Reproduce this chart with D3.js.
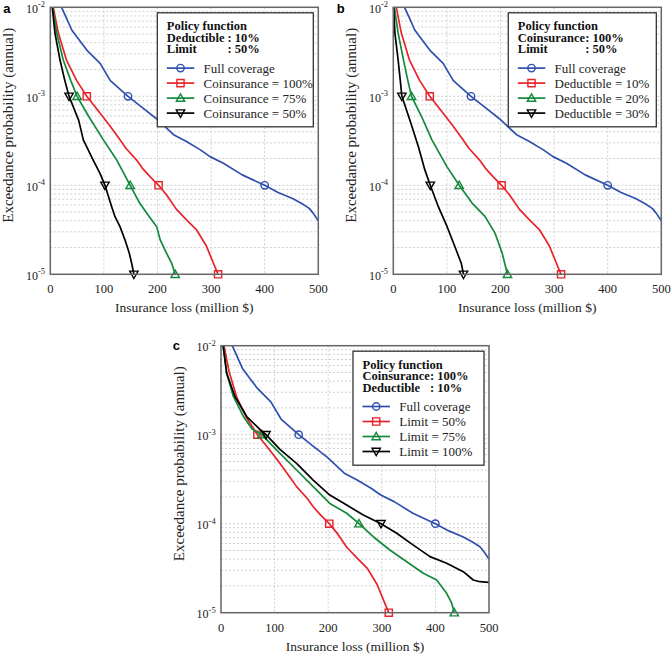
<!DOCTYPE html>
<html>
<head>
<meta charset="utf-8">
<script src="https://cdn.jsdelivr.net/npm/d3@7"></script>
<style>
    body { margin: 0; background: #fff; }
    svg { display: block; font-family: "Liberation Serif", "Times New Roman", serif; }
</style>
</head>
<body>
<div id="chart"></div>
<script>
// ---- data (loss in million $, annual exceedance probability) ----
const lossTicks = [0, 100, 200, 300, 400, 500];
const probTicks = [1e-2, 1e-3, 1e-4, 1e-5];
const markerProbs = [1e-3, 1e-4, 1e-5];

// same in all three panels
const fullCoverage = [
    [21, 1e-2], [30, 7.6e-3], [40, 5.56e-3], [55, 4.2e-3], [68, 3.31e-3], [93, 2.34e-3],
    [112, 1.5e-3], [145, 1e-3], [170, 7.6e-4], [198, 5.6e-4], [230, 3.7e-4], [254, 3.1e-4],
    [280, 2.5e-4], [298, 2.1e-4], [323, 1.77e-4], [358, 1.31e-4], [400, 1e-4], [425, 8.3e-5],
    [452, 7.1e-5], [470, 6.2e-5], [483, 5.5e-5], [490, 4.9e-5], [500, 4.0e-5]
];

// deductible 10%, limit 50%, coinsurance 100% (red in every panel)
const policyBase = [
    [5.6, 1e-2], [15, 5.13e-3], [30, 2.57e-3], [49, 1.51e-3], [68, 1e-3], [93, 6.46e-4],
    [110, 4.76e-4], [130, 3.24e-4], [141, 2.61e-4], [161, 1.92e-4], [172, 1.55e-4], [186, 1.25e-4],
    [202, 1e-4], [217, 7.78e-5], [235, 5.4e-5], [254.5, 4.07e-5], [273, 3.15e-5], [291, 2.09e-5],
    [304, 1.35e-5], [313, 1e-5]
];

// panel a: coinsurance
const coins75 = [
    [4.4, 1e-2], [12, 5.13e-3], [24, 2.57e-3], [38, 1.51e-3], [50, 1e-3], [72, 5.89e-4],
    [99, 3.24e-4], [124, 1.92e-4], [149, 1e-4], [167, 6.28e-5], [180, 4.84e-5], [198.5, 3.43e-5],
    [205, 2.43e-5], [217, 1.72e-5], [226.5, 1.33e-5], [233, 1e-5]
];
const coins50 = [
    [3.7, 1e-2], [8.7, 5.13e-3], [18, 2.57e-3], [27, 1.51e-3], [35, 1e-3], [53, 5.37e-4],
    [61.6, 3.24e-4], [80, 1.92e-4], [92.7, 1.36e-4], [102, 1e-4], [114.5, 5.75e-5], [120.7, 4.44e-5],
    [130, 3.43e-5], [139.4, 2.43e-5], [147.4, 1.72e-5], [151.8, 1.33e-5], [156, 1e-5]
];

// panel b: deductible
const ded20 = [
    [2, 1e-2], [9, 5.13e-3], [19, 2.57e-3], [27, 1.51e-3], [34, 1e-3], [53, 5.89e-4],
    [72, 3.24e-4], [100, 1.62e-4], [123, 1e-4], [147, 6.31e-5], [171, 4.47e-5], [190, 2.88e-5],
    [203, 1.74e-5], [213, 1e-5]
];
const ded30 = [
    [0.6, 1e-2], [3, 5.13e-3], [9, 2.57e-3], [13, 1.51e-3], [16, 1e-3], [31, 5.37e-4],
    [47, 2.69e-4], [59, 1.48e-4], [69, 1e-4], [84, 5.75e-5], [100, 3.47e-5], [115, 2.04e-5],
    [127, 1.32e-5], [131, 1e-5]
];

// panel c: limit
const limit75 = [
    [4, 1e-2], [10.6, 4.9e-3], [23, 2.69e-3], [42, 1.6e-3], [58, 1.16e-3], [76, 1e-3],
    [110, 6.18e-4], [141, 4.01e-4], [172, 2.61e-4], [203, 1.69e-4], [234.5, 1.31e-4], [257.5, 1e-4],
    [284, 7.14e-5], [315, 5.06e-5], [346.5, 3.74e-5], [377.4, 2.77e-5], [402.4, 2.33e-5], [421, 1.65e-5],
    [430.4, 1.28e-5], [435.3, 1e-5]
];
const limit100 = [
    [4, 1e-2], [10.6, 4.9e-3], [26, 2.69e-3], [48, 1.6e-3], [73, 1.14e-3], [84, 1e-3],
    [110, 6.85e-4], [141, 4.76e-4], [172, 3.09e-4], [203, 2.1e-4], [234.5, 1.62e-4], [265.5, 1.25e-4],
    [298.5, 1e-4], [327.8, 7.8e-5], [358.8, 5.75e-5], [390, 4.27e-5], [421, 3.59e-5], [452, 2.89e-5],
    [470.7, 2.33e-5], [483, 2.23e-5], [500, 2.19e-5]
];

const colors = { blue: "#2f4fae", red: "#e8232a", green: "#14893b", black: "#000000" };

const panels = [
    {
        tag: "a", left: 50.3, top: 7.3, tagX: 3.3, tagY: 13.3, legendW: 156, colGap: 3,
        header: ["Policy function", ["Deductible", ": 10%"], ["Limit", ": 50%"]],
        series: [
            { name: "Full coverage", data: fullCoverage, color: colors.blue, symbol: "circle" },
            { name: "Coinsurance = 100%", data: policyBase, color: colors.red, symbol: "square" },
            { name: "Coinsurance = 75%", data: coins75, color: colors.green, symbol: "up" },
            { name: "Coinsurance = 50%", data: coins50, color: colors.black, symbol: "down" }
        ]
    },
    {
        tag: "b", left: 393.3, top: 7.3, tagX: 336.7, tagY: 13.3, legendW: 148, colGap: 0,
        header: ["Policy function", ["Coinsurance", ": 100%"], ["Limit", ": 50%"]],
        series: [
            { name: "Full coverage", data: fullCoverage, color: colors.blue, symbol: "circle" },
            { name: "Deductible = 10%", data: policyBase, color: colors.red, symbol: "square" },
            { name: "Deductible = 20%", data: ded20, color: colors.green, symbol: "up" },
            { name: "Deductible = 30%", data: ded30, color: colors.black, symbol: "down" }
        ]
    },
    {
        tag: "c", left: 221, top: 345.7, tagX: 172.7, tagY: 350, legendW: 131, colGap: 0,
        header: ["Policy function", ["Coinsurance", ": 100%"], ["Deductible", ": 10%"]],
        series: [
            { name: "Full coverage", data: fullCoverage, color: colors.blue, symbol: "circle" },
            { name: "Limit = 50%", data: policyBase, color: colors.red, symbol: "square" },
            { name: "Limit = 75%", data: limit75, color: colors.green, symbol: "up" },
            { name: "Limit = 100%", data: limit100, color: colors.black, symbol: "down" }
        ]
    }
];

const plotW = 268, plotH = 267;

const svg = d3.select("#chart").append("svg")
    .attr("width", 671)
    .attr("height", 656);

svg.append("rect").attr("width", 671).attr("height", 656).attr("fill", "#fff");

// marker path centred on 0,0
function symbolPath(type) {
    const s = 3.6;
    if (type === "square") return `M${-s},${-s}H${s}V${s}H${-s}Z`;
    if (type === "up") return `M0,${-s - 0.6}L${s + 0.6},${s - 0.4}L${-s - 0.6},${s - 0.4}Z`;
    return `M0,${s + 0.6}L${s + 0.6},${-s + 0.4}L${-s - 0.6},${-s + 0.4}Z`;
}

function drawMarker(g, type, color, x, y) {
    if (type === "circle") {
        g.append("circle").attr("cx", x).attr("cy", y).attr("r", 3.7)
            .attr("fill", "none").attr("stroke", color).attr("stroke-width", 1.4);
    } else {
        g.append("path").attr("d", symbolPath(type))
            .attr("transform", `translate(${x},${y})`)
            .attr("fill", "none").attr("stroke", color).attr("stroke-width", 1.4);
    }
}

// scratch text to measure header labels
function textWidth(str, size, weight) {
    const t = svg.append("text").attr("font-size", size).attr("font-weight", weight).text(str);
    const w = t.node().getComputedTextLength();
    t.remove();
    return w;
}

function drawPanel(p) {
    const g = svg.append("g").attr("transform", `translate(${p.left},${p.top})`);

    const x = d3.scaleLinear().domain([0, 500]).range([0, plotW]);
    const y = d3.scaleLog().domain([1e-5, 1e-2]).range([plotH, 0]);

    // grid
    g.append("g").selectAll("line").data(y.ticks()).join("line")
        .attr("x1", 0).attr("x2", plotW)
        .attr("y1", d => y(d)).attr("y2", d => y(d))
        .attr("stroke", "#c4c4c4").attr("stroke-width", 0.8)
        .attr("stroke-dasharray", "2,2");
    g.append("g").selectAll("line").data(lossTicks).join("line")
        .attr("x1", d => x(d)).attr("x2", d => x(d))
        .attr("y1", 0).attr("y2", plotH)
        .attr("stroke", "#c4c4c4").attr("stroke-width", 0.8)
        .attr("stroke-dasharray", "2,2");

    // curves
    const line = d3.line().x(d => x(d[0])).y(d => y(d[1]));
    p.series.forEach(s => {
        g.append("path").datum(s.data)
            .attr("d", line)
            .attr("fill", "none")
            .attr("stroke", s.color)
            .attr("stroke-width", 1.7)
            .attr("stroke-linejoin", "round");
        s.data.filter(d => markerProbs.includes(d[1]))
            .forEach(d => drawMarker(g, s.symbol, s.color, x(d[0]), y(d[1])));
    });

    // frame
    g.append("rect").attr("width", plotW).attr("height", plotH)
        .attr("fill", "none").attr("stroke", "#666").attr("stroke-width", 1.5);

    // x tick labels
    g.append("g").selectAll("text").data(lossTicks).join("text")
        .attr("x", d => x(d)).attr("y", plotH + 19)
        .attr("text-anchor", "middle")
        .attr("font-size", 12.5)
        .attr("fill", "#222")
        .text(d => d);

    // y tick labels 10^k
    const yt = g.append("g").selectAll("text").data(probTicks).join("text")
        .attr("x", -5.3).attr("y", d => y(d) + 5.4)
        .attr("text-anchor", "end")
        .attr("font-size", 12)
        .attr("fill", "#222");
    yt.append("tspan").text("10");
    yt.append("tspan").attr("font-size", 8.5).attr("dy", -5.5)
        .text(d => Math.round(Math.log10(d)));

    // axis titles
    g.append("text")
        .attr("x", plotW / 2).attr("y", plotH + 38)
        .attr("text-anchor", "middle").attr("font-size", 13.5).attr("fill", "#222")
        .text("Insurance loss (million $)");
    g.append("text")
        .attr("transform", `translate(-37.3,${118}) rotate(-90)`)
        .attr("text-anchor", "middle").attr("font-size", 15).attr("fill", "#222")
        .text("Exceedance probability (annual)");

    // legend
    const lw = p.legendW, lh = 114;
    const lg = g.append("g").attr("transform", `translate(${plotW - 5 - lw},5.5)`);
    lg.append("rect").attr("width", lw).attr("height", lh)
        .attr("fill", "#fff").attr("stroke", "#333").attr("stroke-width", 1.3);

    // header block: one text, aligned colon column
    const colX = 9.5 + d3.max(p.header.slice(1), h => textWidth(h[0], 12.5, "bold")) + p.colGap;
    const head = lg.append("text")
        .attr("font-weight", "bold").attr("font-size", 12.5).attr("fill", "#111")
        .attr("y", 17.5);
    head.append("tspan").attr("x", 9.5).text(p.header[0]);
    p.header.slice(1).forEach(h => {
        head.append("tspan").attr("x", 9.5).attr("dy", 11.5).text(h[0]);
        head.append("tspan").attr("x", colX).text(h[1]);
    });

    p.series.forEach((s, i) => {
        const cy = 55.3 + i * 15;
        lg.append("line").attr("x1", 9.5).attr("x2", 37).attr("y1", cy).attr("y2", cy)
            .attr("stroke", s.color).attr("stroke-width", 1.7);
        drawMarker(lg, s.symbol, s.color, 23.2, cy);
        lg.append("text").attr("x", 46.3).attr("y", cy + 4.5)
            .attr("font-size", 13).attr("fill", "#222")
            .text(s.name);
    });

    // panel tag
    svg.append("text")
        .attr("x", p.tagX).attr("y", p.tagY)
        .attr("font-family", "'Liberation Sans', Arial, sans-serif")
        .attr("font-weight", "bold").attr("font-size", 13)
        .text(p.tag);
}

panels.forEach(drawPanel);
</script>
</body>
</html>
